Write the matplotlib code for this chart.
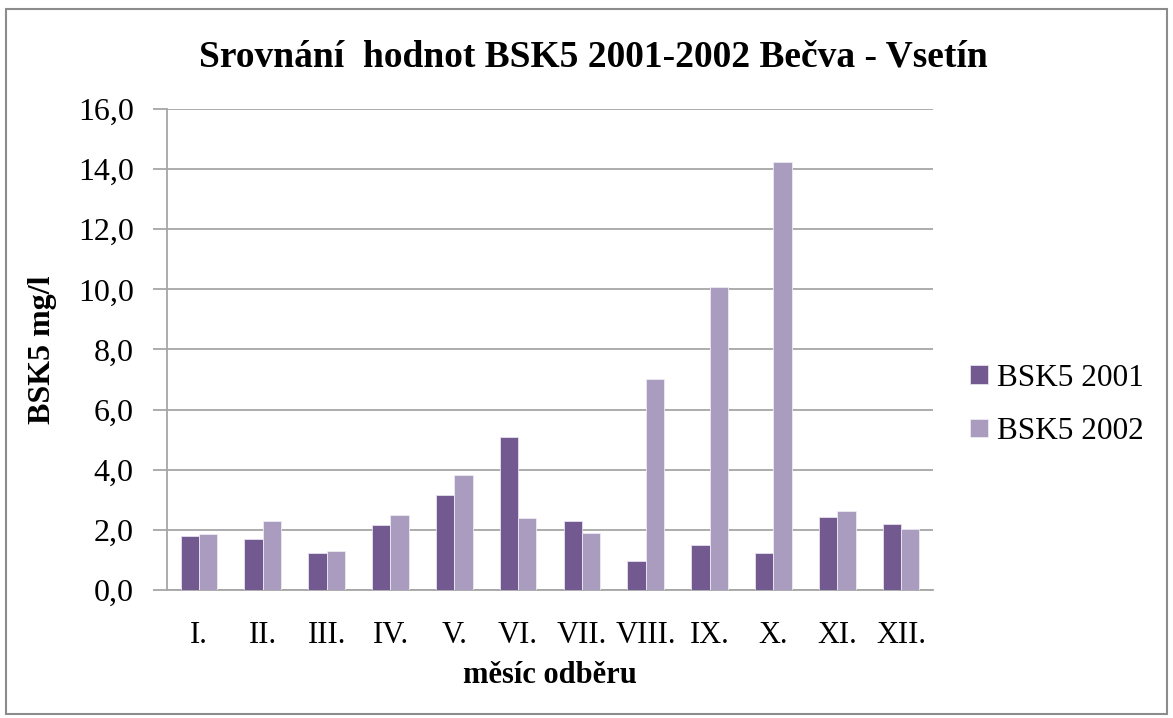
import matplotlib.pyplot as plt
from matplotlib.patches import Rectangle
from matplotlib.ticker import FuncFormatter, MultipleLocator
import numpy as np

months = ["I.", "II.", "III.", "IV.", "V.", "VI.", "VII.", "VIII.", "IX.", "X.", "XI.", "XII."]
bsk_2001 = [1.80, 1.68, 1.22, 2.15, 3.17, 5.08, 2.30, 0.98, 1.50, 1.23, 2.43, 2.21]
bsk_2002 = [1.85, 2.28, 1.30, 2.48, 3.81, 2.40, 1.91, 7.02, 10.09, 14.23, 2.63, 2.03]

plt.rcParams['font.family'] = ['Liberation Serif', 'DejaVu Serif']

fig = plt.figure(figsize=(11.73, 7.18), dpi=100)
ax = fig.add_axes([0.1424, 0.1783, 0.6530, 0.6699])

x = np.arange(len(months))
w = 0.287
ax.bar(x - w / 2, bsk_2001, width=w, color='#72598F', edgecolor='#E6E0EE', linewidth=0.6,
       label='BSK5 2001', zorder=3)
ax.bar(x + w / 2, bsk_2002, width=w, color='#A99CBF', edgecolor='#EEEAF3', linewidth=0.6,
       label='BSK5 2002', zorder=3)

ax.set_xlim(-0.5, len(months) - 0.5)
ax.set_ylim(0, 16)
ax.yaxis.set_major_locator(MultipleLocator(2))
ax.yaxis.set_major_formatter(FuncFormatter(lambda v, p: f"{v:.1f}".replace('.', ',')))
ax.set_xticks(x)
ax.set_xticklabels(months)

ax.grid(axis='y', color='#A6A6A6', linewidth=1.3, zorder=0)
for s in ['top', 'right']:
    ax.spines[s].set_visible(False)
ax.spines['left'].set_color('#A6A6A6')
ax.spines['bottom'].set_color('#A6A6A6')
ax.spines['left'].set_linewidth(1.3)
ax.spines['bottom'].set_linewidth(1.3)
ax.tick_params(axis='y', length=10, width=1.3, color='#A6A6A6', labelsize=23, pad=14)
ax.tick_params(axis='x', length=0, labelsize=22, pad=22)

ax.set_ylabel('BSK5 mg/l', fontsize=23, fontweight='bold', labelpad=15)
ax.set_xlabel('měsíc odběru', fontsize=22, fontweight='bold', labelpad=8)
fig.text(0.506, 0.921, 'Srovnání  hodnot BSK5 2001-2002 Bečva - Vsetín', ha='center', va='center',
         fontsize=27, fontweight='bold')

leg = ax.legend(loc='center left', bbox_to_anchor=(1.012, 0.385), frameon=False, fontsize=22.5,
                handlelength=0.55, handleheight=0.55, handletextpad=0.3, labelspacing=0.78)

# outer chart border
fig.patches.append(Rectangle((0.005, 0.006), 0.99, 0.982, transform=fig.transFigure,
                             fill=False, edgecolor='#8C8C8C', linewidth=1.5))

fig.savefig('out.png', dpi=100)
